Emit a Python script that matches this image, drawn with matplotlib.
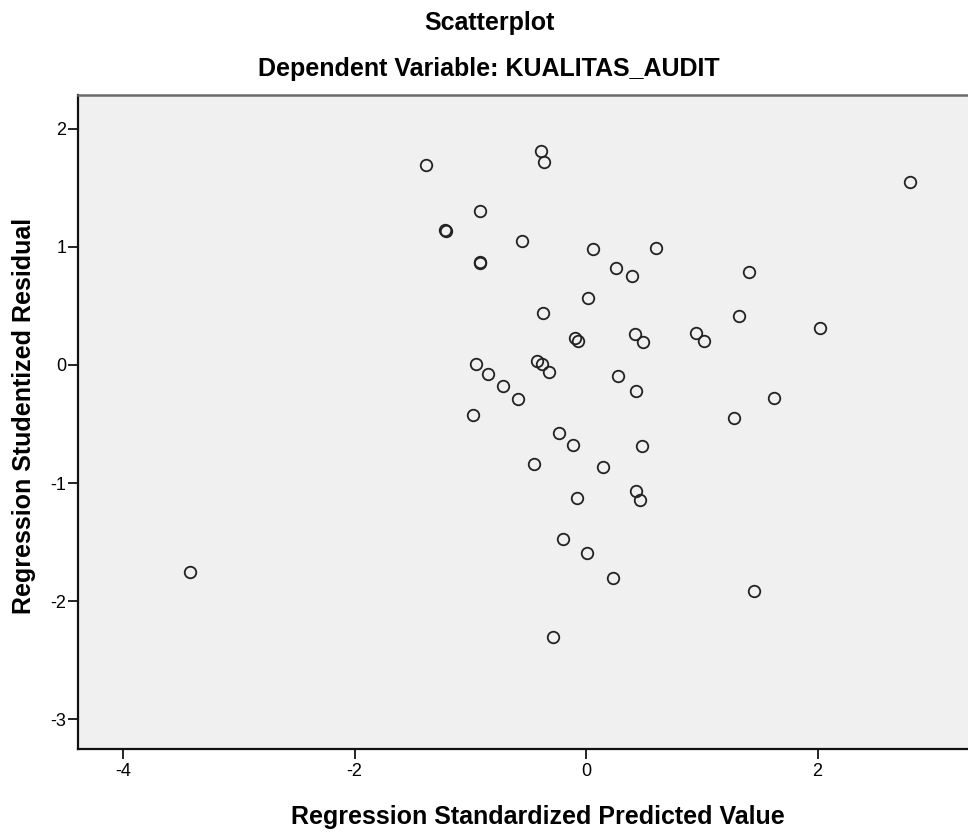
import matplotlib.pyplot as plt

plt.rcParams['font.family'] = ['Liberation Sans', 'DejaVu Sans']

# Data
pred = [-1.38, -0.39, -0.36, 2.80, -0.92, -1.22, -1.21, -0.55, 0.06, 0.60,
        -0.92, -0.92, 0.26, 0.40, 1.41, 0.02, -0.37, 1.32, 2.02, -0.10,
        -0.07, 0.42, 0.49, 0.95, 1.02, -0.95, -0.42, -0.38, -0.32, -0.85,
        -0.72, -0.59, 0.28, 0.43, 1.62, 1.28, -0.98, -0.23, -0.11, 0.48,
        -0.45, 0.15, 0.43, 0.47, -0.08, -0.20, 0.01, 0.23, -3.42, 1.45,
        -0.29]
resid = [1.69, 1.81, 1.72, 1.55, 1.30, 1.14, 1.13, 1.05, 0.98, 0.99,
         0.86, 0.87, 0.82, 0.75, 0.79, 0.57, 0.44, 0.41, 0.31, 0.23,
         0.20, 0.26, 0.19, 0.27, 0.20, 0.01, 0.03, 0.01, -0.06, -0.08,
         -0.18, -0.29, -0.09, -0.22, -0.28, -0.45, -0.42, -0.58, -0.68, -0.69,
         -0.84, -0.86, -1.07, -1.14, -1.13, -1.47, -1.59, -1.80, -1.75, -1.91,
         -2.30]
xticks = [-4, -2, 0, 2]
yticks = [-3, -2, -1, 0, 1, 2]

fig = plt.figure(figsize=(9.68, 8.32), dpi=100)
ax = fig.add_axes([0.0806, 0.0998, 0.9194, 0.786])
ax.set_facecolor('#F0F0F0')

ax.plot(pred, resid, linestyle='none', marker='o', markersize=8.3,
        markerfacecolor='none', markeredgecolor='#222222', markeredgewidth=1.3)

ax.set_xlim(-4.39, 3.30)
ax.set_ylim(-3.25, 2.284)
ax.set_xticks(xticks)
ax.set_xticklabels([str(t) for t in xticks])
ax.set_yticks(yticks)
ax.set_yticklabels([str(t) for t in yticks])

ax.tick_params(axis='x', direction='out', length=7, width=1.2, labelsize=13, pad=3)
ax.tick_params(axis='y', direction='out', length=7, width=1.2, labelsize=13, pad=1.5)

for side in ['left', 'bottom']:
    ax.spines[side].set_linewidth(1.6)
    ax.spines[side].set_color('#111111')
ax.spines['top'].set_color('#6a6a6a')
ax.spines['top'].set_linewidth(1.8)
ax.spines['right'].set_visible(False)

ax.set_xlabel('Regression Standardized Predicted Value', fontsize=18,
              fontweight='bold', va='baseline')
ax.xaxis.set_label_coords(0.517, -0.115)
ax.set_ylabel('Regression Studentized Residual', fontsize=18,
              fontweight='bold')
ax.yaxis.set_label_coords(-0.047, 0.51)

fig.text(0.506, 0.964, 'Scatterplot', ha='center', va='baseline',
         fontsize=18, fontweight='bold')
fig.text(0.505, 0.909, 'Dependent Variable: KUALITAS_AUDIT', ha='center',
         va='baseline', fontsize=18, fontweight='bold')

fig.savefig('out.png', dpi=100)
